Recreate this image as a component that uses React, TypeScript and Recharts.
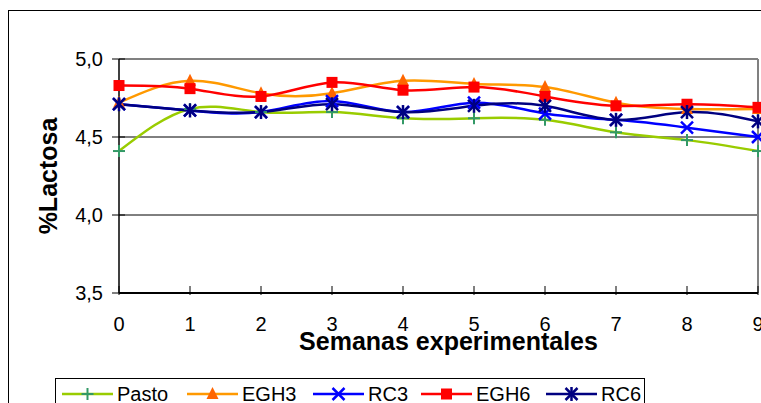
import {
  CartesianGrid,
  Line,
  LineChart,
  ReferenceLine,
  XAxis,
  YAxis,
} from "recharts";

// Weekly lactose (%) per treatment
const semanas = [0, 1, 2, 3, 4, 5, 6, 7, 8, 9];
const pasto = [4.41, 4.68, 4.66, 4.66, 4.62, 4.62, 4.61, 4.53, 4.48, 4.41];
const egh3 = [4.72, 4.86, 4.78, 4.78, 4.86, 4.84, 4.82, 4.72, 4.68, 4.68];
const rc3 = [4.71, 4.67, 4.66, 4.73, 4.66, 4.72, 4.65, 4.61, 4.56, 4.5];
const egh6 = [4.83, 4.81, 4.76, 4.85, 4.8, 4.82, 4.76, 4.7, 4.71, 4.69];
const rc6 = [4.71, 4.67, 4.66, 4.71, 4.66, 4.7, 4.7, 4.61, 4.66, 4.6];
const yTicks = [3.5, 4.0, 4.5, 5.0];

const data = semanas.map((s, i) => ({
  semana: s,
  Pasto: pasto[i],
  EGH3: egh3[i],
  RC3: rc3[i],
  EGH6: egh6[i],
  RC6: rc6[i],
}));

const FONT = '"Liberation Sans", Arial, sans-serif';

type MarkerProps = { cx?: number; cy?: number };

const PlusMarker = ({ cx = 0, cy = 0 }: MarkerProps) => (
  <g stroke="#339966" strokeWidth={2}>
    <line x1={cx - 6} x2={cx + 6} y1={cy} y2={cy} />
    <line x1={cx} x2={cx} y1={cy - 6} y2={cy + 6} />
  </g>
);

const TriangleMarker = ({ cx = 0, cy = 0 }: MarkerProps) => (
  <polygon
    points={`${cx},${cy - 7} ${cx - 6},${cy + 5} ${cx + 6},${cy + 5}`}
    fill="#FF6600"
  />
);

const CrossMarker = ({ cx = 0, cy = 0 }: MarkerProps) => (
  <g stroke="#0000FF" strokeWidth={2.5}>
    <line x1={cx - 6} x2={cx + 6} y1={cy - 6} y2={cy + 6} />
    <line x1={cx - 6} x2={cx + 6} y1={cy + 6} y2={cy - 6} />
  </g>
);

const SquareMarker = ({ cx = 0, cy = 0 }: MarkerProps) => (
  <rect x={cx - 5.5} y={cy - 5.5} width={11} height={11} fill="#FF0000" />
);

const StarMarker = ({ cx = 0, cy = 0 }: MarkerProps) => (
  <g stroke="#000080" strokeWidth={2.5}>
    <line x1={cx - 6} x2={cx + 6} y1={cy - 6} y2={cy + 6} />
    <line x1={cx - 6} x2={cx + 6} y1={cy + 6} y2={cy - 6} />
    <line x1={cx} x2={cx} y1={cy - 7} y2={cy + 7} />
  </g>
);

// legend slot offsets inside the legend box
const series = [
  { key: "Pasto", color: "#99CC00", Marker: PlusMarker, slot: 6 },
  { key: "EGH3", color: "#FF9900", Marker: TriangleMarker, slot: 131 },
  { key: "RC3", color: "#0000FF", Marker: CrossMarker, slot: 257 },
  { key: "EGH6", color: "#FF0000", Marker: SquareMarker, slot: 365 },
  { key: "RC6", color: "#000080", Marker: StarMarker, slot: 490 },
];

const YTick = ({ x, y, payload }: any) => (
  <g>
    <line x1={x - 7} x2={x + 6} y1={y} y2={y} stroke="#000" />
    <text
      x={x - 16}
      y={y + 7}
      textAnchor="end"
      fontSize={20}
      fontFamily={FONT}
      fill="#000"
    >
      {Number(payload.value).toFixed(1).replace(".", ",")}
    </text>
  </g>
);

const XTick = ({ x, y, payload }: any) => (
  <g>
    <line x1={x} x2={x} y1={y - 7} y2={y + 2} stroke="#000" />
    <text
      x={x}
      y={y + 38}
      textAnchor="middle"
      fontSize={20}
      fontFamily={FONT}
      fill="#000"
    >
      {payload.value}
    </text>
  </g>
);

const XTitle = ({ viewBox }: any) => {
  const vb = viewBox || { x: 110, y: 282, width: 639 };
  return (
    <text
      x={vb.x + vb.width / 2 + 10}
      y={vb.y + 57}
      textAnchor="middle"
      fontSize={25}
      fontWeight="bold"
      fontFamily={FONT}
      fill="#000"
    >
      Semanas experimentales
    </text>
  );
};

const YTitle = ({ viewBox }: any) => {
  const vb = viewBox || { y: 48, height: 234 };
  const cy = vb.y + vb.height / 2;
  return (
    <text
      x={39}
      y={cy}
      transform={`rotate(-90, 39, ${cy})`}
      textAnchor="middle"
      dominantBaseline="central"
      fontSize={25}
      fontWeight="bold"
      fontFamily={FONT}
      fill="#000"
    >
      %Lactosa
    </text>
  );
};

const LegendBox = () => (
  <div
    style={{
      position: "absolute",
      left: 46,
      top: 367,
      width: 590,
      height: 40,
      border: "1px solid #000",
      background: "#fff",
      boxSizing: "border-box",
      fontFamily: FONT,
      fontSize: 20,
      lineHeight: "20px",
    }}
  >
    {series.map(({ key, color, Marker, slot }) => (
      <div
        key={key}
        style={{
          position: "absolute",
          left: slot,
          top: 5,
          display: "flex",
          alignItems: "center",
          whiteSpace: "nowrap",
        }}
      >
        <svg width={51} height={20}>
          <line x1={0} x2={51} y1={10} y2={10} stroke={color} strokeWidth={2.5} />
          <Marker cx={25.5} cy={10} />
        </svg>
        <span style={{ marginLeft: 4 }}>{key}</span>
      </div>
    ))}
  </div>
);

export default function App() {
  return (
    <div
      style={{
        position: "fixed",
        left: 8,
        top: 10,
        width: 800,
        height: 420,
        borderLeft: "1px solid #000",
        borderTop: "1px solid #000",
        background: "#fff",
      }}
    >
      <LineChart
        width={790}
        height={400}
        data={data}
        margin={{ top: 48, right: 41, left: 0, bottom: 88 }}
      >
        <CartesianGrid vertical={false} stroke="#000" />
        <XAxis
          dataKey="semana"
          type="number"
          domain={[0, 9]}
          ticks={semanas}
          height={30}
          axisLine={{ stroke: "#000", strokeWidth: 2 }}
          tickLine={false}
          tickSize={0}
          tickMargin={0}
          tick={<XTick />}
          label={<XTitle />}
        />
        <YAxis
          type="number"
          domain={[3.5, 5.0]}
          ticks={yTicks}
          width={110}
          axisLine={{ stroke: "#000", strokeWidth: 1.5 }}
          tickLine={false}
          tickSize={0}
          tickMargin={0}
          tick={<YTick />}
          label={<YTitle />}
        />
        <ReferenceLine y={5.0} stroke="#808080" strokeWidth={2} />
        <ReferenceLine x={9} stroke="#808080" strokeWidth={2} />
        {series.map(({ key, color, Marker }) => (
          <Line
            key={key}
            dataKey={key}
            type="natural"
            stroke={color}
            strokeWidth={2.5}
            isAnimationActive={false}
            activeDot={false}
            dot={(props: any) => (
              <Marker key={`${key}-${props.index}`} cx={props.cx} cy={props.cy} />
            )}
          />
        ))}
      </LineChart>
      <LegendBox />
    </div>
  );
}
